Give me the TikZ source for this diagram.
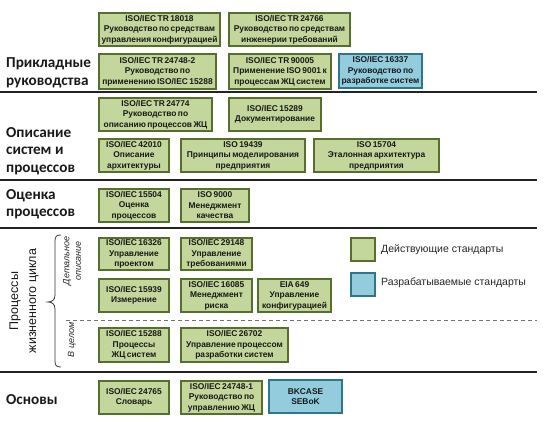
\documentclass[tikz,border=0pt]{standalone}
\usepackage{fontspec}
\setmainfont{Liberation Sans}
\newfontfamily\labfont{Carlito}
\usetikzlibrary{calc}
\definecolor{gfill}{RGB}{195,214,155}
\definecolor{gdraw}{RGB}{88,110,44}
\definecolor{bfill}{RGB}{147,205,221}
\definecolor{bdraw}{RGB}{45,118,140}
\definecolor{sepcol}{RGB}{35,35,35}
\newcommand\bxfont{\fontsize{8.4}{10.5}\selectfont\bfseries\spaceskip=0.17em plus 0.05em\relax}
\tikzset{
  stdbox/.style={draw=gdraw, fill=gfill, line width=1.6pt, inner sep=0pt, align=center,
    font=\bxfont, text=black!90},
  devbox/.style={stdbox, draw=bdraw, fill=bfill},
  seclabel/.style={anchor=west, align=left, inner sep=0pt,
    font=\labfont\bfseries\fontsize{15.2}{17.5}\selectfont, text=black!90},
  sublabel/.style={rotate=90, align=center, inner sep=0pt,
    font=\itshape\fontsize{9}{11.5}\selectfont, text=black!85},
  legtext/.style={anchor=west, inner sep=0pt, font=\fontsize{10.5}{12}\selectfont, text=black!85},
  sepline/.style={line width=2.4pt, draw=sepcol},
  dashline/.style={line width=0.9pt, draw=black!55, dash pattern=on 4pt off 3pt},
  bracestyle/.style={line width=0.8pt, draw=black!80},
}
% \stdbx{name}{style}{x1}{y1}{x2}{y2}{text}
\newcommand\stdbx[7]{\node[#2, minimum width={#5-#3-1.6}, minimum height={#6-#4-1.6}] (#1) at ({(#3+#5)/2},{(#4+#6)/2}) {#7};}
\begin{document}
\begin{tikzpicture}[x=1pt,y=-1pt]
\useasboundingbox (0,0) rectangle (544,422);
% separators
\coordinate (s1l) at (0,92);   \coordinate (s1r) at (537,92);
\coordinate (s2l) at (0,180);  \coordinate (s2r) at (537,180);
\coordinate (s3l) at (0,228);  \coordinate (s3r) at (537,228);
\coordinate (s4l) at (0,372);  \coordinate (s4r) at (537,372);
\coordinate (dl) at (66,320);  \coordinate (dr) at (537,320);
\draw[sepline] (s1l) -- (s1r);
\draw[sepline] (s2l) -- (s2r);
\draw[sepline] (s3l) -- (s3r);
\draw[sepline] (s4l) -- (s4r);
\draw[dashline] (dl) -- (dr);
% section labels
\node[seclabel] (lab1) at (6,73) {Прикладные\\руководства};
\node[seclabel] (lab2) at (6,151) {Описание\\систем и\\процессов};
\node[seclabel] (lab3) at (6,204) {Оценка\\процессов};
\node[seclabel] (lab5) at (6,400) {Основы};
\node[rotate=90, align=center, inner sep=0pt, font=\fontsize{12.5}{18}\selectfont, text=black!90] (lab4) at (24,301) {Процессы\\жизненного цикла};
% brace
\coordinate (bt) at (61,235);
\coordinate (bb) at (61,367);
\coordinate (btip) at (48,302);
\draw[bracestyle] (bt) .. controls (57,235) and (55,236) .. (55,241) -- (55,295) .. controls (55,300) and (52,302) .. (btip)
  .. controls (52,302) and (55,304) .. (55,309) -- (55,361) .. controls (55,366) and (57,367) .. (bb);
\node[sublabel] (sub1) at (72,261) {Детальное\\описание};
\node[sublabel] (sub2) at (72,340) {В целом};
% row 1
\stdbx{a}{stdbox}{98}{12}{221}{47}{ISO/IEC TR 18018\\Руководство по средствам\\управления конфигурацией}
\stdbx{b}{stdbox}{228}{12}{351}{47}{ISO/IEC TR 24766\\Руководство по средствам\\инженерии требований}
\stdbx{c}{stdbox}{98}{53}{217}{90}{ISO/IEC TR 24748-2\\Руководство по\\применению ISO/IEC 15288}
\stdbx{d}{stdbox}{228}{53}{332}{90}{ISO/IEC TR 90005\\Применение ISO 9001 к\\процессам ЖЦ систем}
\stdbx{e}{devbox}{338}{53}{423}{89}{ISO/IEC 16337\\Руководство по\\разработке систем}
% section 2
\stdbx{f}{stdbox}{98}{97}{213}{132}{ISO/IEC TR 24774\\Руководство по\\описанию процессов ЖЦ}
\stdbx{g}{stdbox}{228}{97}{322}{132}{ISO/IEC 15289\\Документирование}
\stdbx{h}{stdbox}{98}{138}{170}{173}{ISO/IEC 42010\\Описание\\архитектуры}
\stdbx{i}{stdbox}{180}{138}{306}{173}{ISO 19439\\Принципы моделирования\\предприятия}
\stdbx{j}{stdbox}{313}{138}{440}{173}{ISO 15704\\Эталонная архитектура\\предприятия}
% section 3
\stdbx{k}{stdbox}{98}{188}{170}{223}{ISO/IEC 15504\\Оценка\\процессов}
\stdbx{l}{stdbox}{180}{188}{250}{223}{ISO 9000\\Менеджмент\\качества}
% section 4
\stdbx{m}{stdbox}{98}{237}{170}{271}{ISO/IEC 16326\\Управление\\проектом}
\stdbx{n}{stdbox}{180}{237}{253}{271}{ISO/IEC 29148\\Управление\\требованиями}
\stdbx{o}{stdbox}{98}{278}{170}{313}{ISO/IEC 15939\\Измерение}
\stdbx{p}{stdbox}{180}{278}{253}{313}{ISO/IEC 16085\\Менеджмент\\риска}
\stdbx{q}{stdbox}{257}{278}{332}{313}{EIA 649\\Управление\\конфигурацией}
\stdbx{r}{stdbox}{98}{327}{170}{363}{ISO/IEC 15288\\Процессы\\ЖЦ систем}
\stdbx{s}{stdbox}{180}{327}{289}{363}{ISO/IEC 26702\\Управление процессом\\разработки систем}
% section 5
\stdbx{t}{stdbox}{98}{380}{170}{415}{ISO/IEC 24765\\Словарь}
\stdbx{u}{stdbox}{180}{380}{263}{415}{ISO/IEC 24748-1\\Руководство по\\управлению ЖЦ}
\stdbx{v}{devbox}{268}{379}{343}{414}{BKCASE\\SEBoK}
% legend
\stdbx{lg1}{stdbox}{350}{237}{376}{262}{}
\stdbx{lg2}{devbox}{350}{272}{376}{297}{}
\node[legtext] (lt1) at (381,250) {Действующие стандарты};
\node[legtext] (lt2) at (381,283) {Разрабатываемые стандарты};
\end{tikzpicture}
\end{document}
